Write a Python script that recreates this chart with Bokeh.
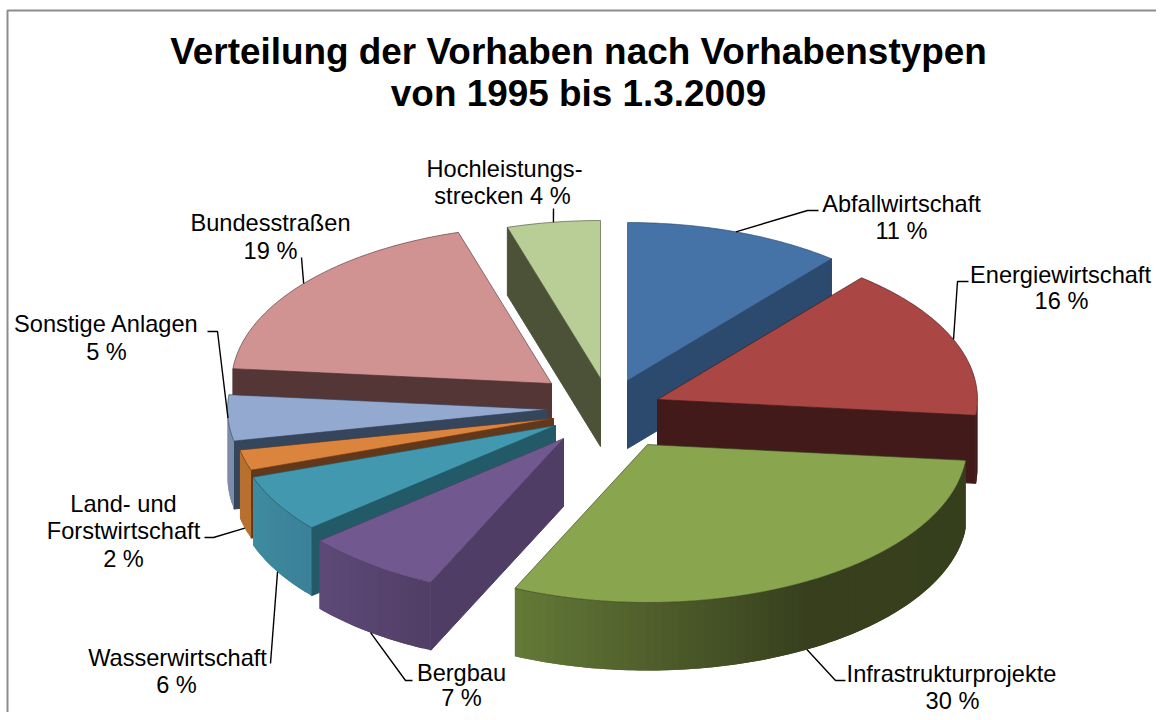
import math
from bokeh.plotting import figure
from bokeh.embed import file_html
from bokeh.resources import INLINE
from bokeh.core.properties import value

# ---- data ----
title_lines = ["Verteilung der Vorhaben nach Vorhabenstypen", "von 1995 bis 1.3.2009"]
categories = ["Abfallwirtschaft", "Energiewirtschaft", "Infrastrukturprojekte", "Bergbau",
              "Wasserwirtschaft", "Land- und Forstwirtschaft", "Sonstige Anlagen",
              "Bundesstraßen", "Hochleistungsstrecken"]
# slice sizes as drawn in the picture (percent of the circle)
drawn_values = [11.0, 15.6, 30.2, 7.0, 5.9, 2.1, 4.7, 18.8, 4.7]
label_lines = [["Abfallwirtschaft", "11 %"], ["Energiewirtschaft", "16 %"],
               ["Infrastrukturprojekte", "30 %"], ["Bergbau", "7 %"],
               ["Wasserwirtschaft", "6 %"], ["Land- und", "Forstwirtschaft", "2 %"],
               ["Sonstige Anlagen", "5 %"], ["Bundesstraßen", "19 %"],
               ["Hochleistungs-", "strecken 4 %"]]

# ---- layout and style ----
W, H = 1156, 712
RX, RY, DEPTH = 320, 158, 68
apex = [(627, 380), (657, 399), (647, 444), (563, 438), (555, 425),
        (553, 418), (547, 409), (551, 383), (600, 378)]
draw_order = [8, 0, 7, 6, 5, 4, 3, 1, 2]
top_color = ["#4572A7", "#AA4643", "#89A54E", "#71588F", "#4198AF",
             "#DB843D", "#93A9CF", "#D19392", "#B9CD96"]
wall_color = ["#2B4A6E", "#421A1A", "#363F1D", "#503D66", "#235A68",
              "#63381A", "#35455C", "#543637", "#4C5238"]
rim_stops = [[(90, "#2B4A6E")], [(90, "#421A1A")],
             [(96, "#363F1D"), (150, "#373F1D"), (206, "#657B38")],
             [(204, "#513E66"), (230, "#5E4A78")],
             [(229, "#3A8098"), (251, "#3F8CA0")],
             [(251, "#B8702F")], [(258, "#7D8CAB"), (276, "#7D8CAB")],
             [(270, "#543637")], [(342, "#4C5238")]]
label_pos = [[(901, 203), (901, 230)], [(1060, 274), (1061, 300)],
             [(951, 673), (952, 700)], [(461, 672), (461, 697)],
             [(177, 657), (176, 684)], [(123, 503), (123, 530), (123, 558)],
             [(106, 323), (106, 351)], [(270, 222), (270, 250)],
             [(504, 168), (502, 195)]]
elbows = [[(807, 210), (818, 210)], [(957, 281), (968, 281)],
          [(835, 680), (845, 680)], [(405, 680), (412, 680)],
          [(270, 663)], [(213, 537), (204, 537)],
          [(217, 331), (207, 331)], [(301, 257)], [(553, 208)]]
FONT = "Liberation Sans"
LABEL_SIZE = "23.6px"
TITLE_SIZE = "36.9px"


def rim_point(i, deg):
    t = math.radians(deg)
    return apex[i][0] + RX * math.sin(t), apex[i][1] - RY * math.cos(t)


def lerp_color(a, b, f):
    ca = [int(a[k:k + 2], 16) for k in (1, 3, 5)]
    cb = [int(b[k:k + 2], 16) for k in (1, 3, 5)]
    return "#%02x%02x%02x" % tuple(round(x + (y - x) * f) for x, y in zip(ca, cb))


def rim_color(i, deg):
    stops = rim_stops[i]
    if deg <= stops[0][0]:
        return stops[0][1]
    for (d0, c0), (d1, c1) in zip(stops, stops[1:]):
        if deg <= d1:
            return lerp_color(c0, c1, (deg - d0) / (d1 - d0))
    return stops[-1][1]


p = figure(width=W, height=H, x_range=(0, W), y_range=(H, 0),
           toolbar_location=None, output_backend="svg", min_border=0,
           outline_line_color=None, background_fill_color="white")
p.axis.visible = False
p.grid.visible = False

# chart frame: the reference shows its top and left edges
p.line([7, 7, W], [H, 10, 10], line_color="#8C8C8C", line_width=2)

# slice angles from the values
total = sum(drawn_values)
starts, ends = [], []
acc = 0.0
for v in drawn_values:
    starts.append(acc / total * 360)
    acc += v
    ends.append(acc / total * 360)

for i in draw_order:
    a0, a1 = starts[i], ends[i]
    ax, ay = apex[i]

    # radial cut faces that look toward the viewer
    for ang, visible in ((a0, math.sin(math.radians(a0)) < -1e-6),
                         (a1, math.sin(math.radians(a1)) > 1e-6)):
        if visible:
            rx_, ry_ = rim_point(i, ang)
            p.patch([ax, rx_, rx_, ax], [ay, ry_, ry_ + DEPTH, ay + DEPTH],
                    fill_color=wall_color[i], line_color=wall_color[i], line_width=1)

    # outer rim, drawn as overlapping shaded strips so no seams show
    lo, hi = max(a0, 90.0), min(a1, 270.0)
    if hi > lo:
        n = max(2, int((hi - lo) / 1.5))
        step = (hi - lo) / n
        for k in range(n):
            d0 = lo + step * k
            d1 = min(hi, d0 + step * 2)
            pts = [rim_point(i, d0 + (d1 - d0) * j / 3) for j in range(4)]
            xs = [q[0] for q in pts] + [q[0] for q in reversed(pts)]
            ys = [q[1] for q in pts] + [q[1] + DEPTH for q in reversed(pts)]
            p.patch(xs, ys, fill_color=rim_color(i, d0 + step / 2), line_color=None)

    # top face
    n = max(4, int(a1 - a0))
    xs, ys = [ax], [ay]
    for k in range(n + 1):
        x_, y_ = rim_point(i, a0 + (a1 - a0) * k / n)
        xs.append(x_)
        ys.append(y_)
    p.patch(xs, ys, fill_color=top_color[i], line_color=wall_color[i],
            line_width=0.8, line_alpha=0.8)

# leader lines start at the middle of each slice's rim
for i in range(len(drawn_values)):
    mid = (starts[i] + ends[i]) / 2
    x_, y_ = rim_point(i, mid)
    if math.cos(math.radians(mid)) < -0.2:
        y_ += DEPTH
    pts = [(x_, y_)] + elbows[i]
    p.line([q[0] for q in pts], [q[1] for q in pts], line_color="black", line_width=1.4)

# labels
for i, lines in enumerate(label_lines):
    p.text([q[0] for q in label_pos[i]], [q[1] for q in label_pos[i]], text=lines,
           text_font=value(FONT), text_font_size=LABEL_SIZE, text_color="black",
           text_align="center", text_baseline="middle")

# title
p.text([578, 578], [51, 93], text=title_lines, text_font=value(FONT),
       text_font_size=TITLE_SIZE, text_font_style="bold", text_color="black",
       text_align="center", text_baseline="middle")

open("out.html", "w").write(file_html(p, INLINE))
